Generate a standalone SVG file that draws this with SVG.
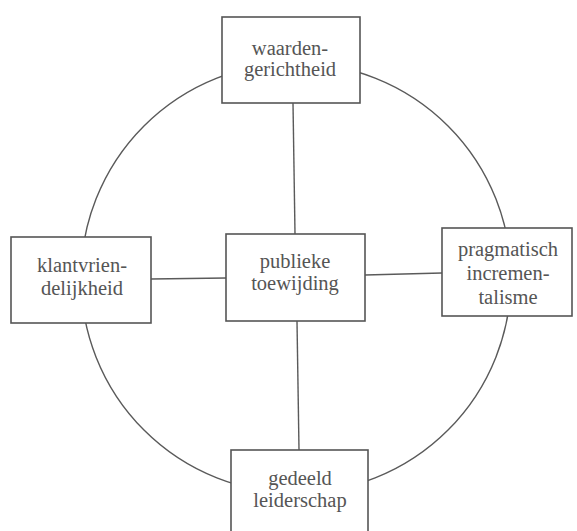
<svg xmlns="http://www.w3.org/2000/svg" width="577" height="531" viewBox="0 0 577 531">
<style>
.box{fill:#fff;stroke:#555;stroke-width:1.6}
.ln{fill:none;stroke:#5a5a5a;stroke-width:1.4}
.t{font-family:"Liberation Serif","Times New Roman",serif;font-size:20.5px;fill:#555;text-anchor:middle}
</style>
<rect width="577" height="531" fill="#fff"/>
<g id="connectors">
<circle class="ln" cx="296" cy="278" r="215"/>
<line class="ln" x1="293" y1="103" x2="295" y2="234"/>
<line class="ln" x1="151" y1="279" x2="226" y2="278"/>
<line class="ln" x1="365" y1="275" x2="442" y2="273"/>
<line class="ln" x1="297" y1="321" x2="299" y2="450"/>
</g>
<g id="waardengerichtheid">
<rect class="box" x="222" y="17" width="138" height="86"/>
<text class="t" x="290" y="55">waarden-</text>
<text class="t" x="290" y="76">gerichtheid</text>
</g>
<g id="klantvriendelijkheid">
<rect class="box" x="11" y="237" width="140" height="86"/>
<text class="t" x="82" y="272">klantvrien-</text>
<text class="t" x="82" y="295">delijkheid</text>
</g>
<g id="publieke-toewijding">
<rect class="box" x="226" y="234" width="139" height="87"/>
<text class="t" x="295" y="268">publieke</text>
<text class="t" x="295" y="290">toewijding</text>
</g>
<g id="pragmatisch-incrementalisme">
<rect class="box" x="442" y="228" width="130" height="88"/>
<text class="t" x="508" y="256">pragmatisch</text>
<text class="t" x="508" y="280">incremen-</text>
<text class="t" x="508" y="304">talisme</text>
</g>
<g id="gedeeld-leiderschap">
<rect class="box" x="231" y="450" width="137" height="95"/>
<text class="t" x="300" y="485">gedeeld</text>
<text class="t" x="300" y="507">leiderschap</text>
</g>
</svg>
